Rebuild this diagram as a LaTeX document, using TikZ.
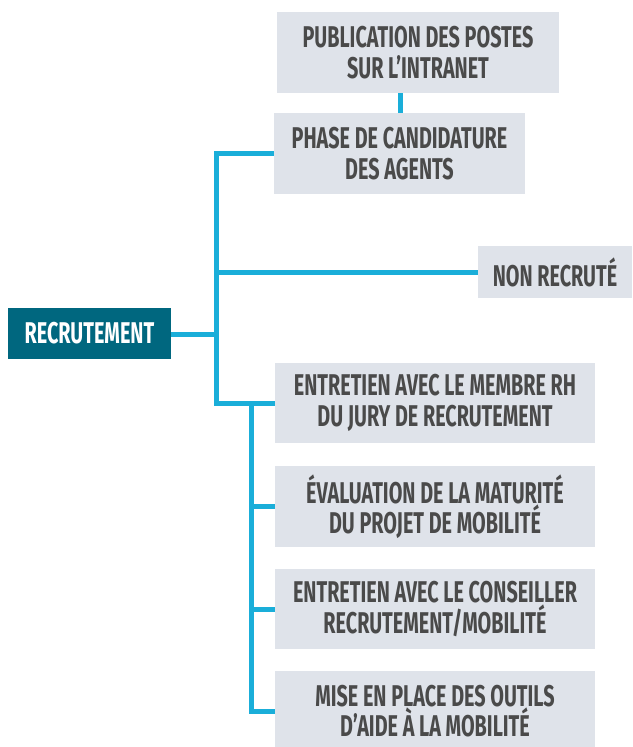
\documentclass[tikz,border=0pt]{standalone}
\usepackage{fontspec}
\newfontfamily\condfont{Fira Sans}[FakeStretch=0.66]
\definecolor{boxgray}{HTML}{DFE3EA}
\definecolor{txtgray}{HTML}{4A4A4A}
\definecolor{linkblue}{HTML}{1AAED9}
\definecolor{tealbox}{HTML}{00677F}
\begin{document}
\begin{tikzpicture}[x=1pt,y=-1pt,
  stepbox/.style={rectangle, fill=boxgray, text=txtgray, inner sep=0pt, align=center,
    font=\condfont\bfseries\fontsize{30}{30.5}\selectfont},
  mainbox/.style={rectangle, fill=tealbox, text=white, inner sep=0pt, align=center,
    font=\condfont\bfseries\fontsize{30}{30.5}\selectfont},
  link/.style={draw=linkblue, line width=5pt, line join=miter}]
\useasboundingbox (0,0) rectangle (632,747);
\node[stepbox, minimum width=282pt, minimum height=81pt] (pub) at (418,52.5) {PUBLICATION DES POSTES\\SUR L’INTRANET};
\node[stepbox, minimum width=251pt, minimum height=81pt] (phase) at (399.5,153.5) {PHASE DE CANDIDATURE\\DES AGENTS};
\node[stepbox, minimum width=154pt, minimum height=52pt] (non) at (555,272) {NON RECRUTÉ};
\node[mainbox, minimum width=163pt, minimum height=51pt] (rec) at (89.5,333.5) {RECRUTEMENT};
\node[stepbox, minimum width=320pt, minimum height=80pt] (e1) at (435,403) {ENTRETIEN AVEC LE MEMBRE RH\\DU JURY DE RECRUTEMENT};
\node[stepbox, minimum width=320pt, minimum height=81pt] (e2) at (435,506.5) {ÉVALUATION DE LA MATURITÉ\\DU PROJET DE MOBILITÉ};
\node[stepbox, minimum width=320pt, minimum height=80pt] (e3) at (435,609) {ENTRETIEN AVEC LE CONSEILLER\\RECRUTEMENT/MOBILITÉ};
\node[stepbox, minimum width=320pt, minimum height=80pt] (e4) at (435,711) {MISE EN PLACE DES OUTILS\\D’AIDE À LA MOBILITÉ};
\coordinate (pc) at (400,0);
\coordinate (j) at (216,334);
\coordinate (k) at (251.5,403);
\draw[link] (pub.south -| pc) -- (phase.north -| pc);
\draw[link] (rec.east |- j) -- (j);
\draw[link] (phase.west) -| (j) |- (e1.west);
\draw[link] (j |- non.west) -- (non.west);
\draw[link] (k) |- (e4.west);
\draw[link] (k |- e2.west) -- (e2.west);
\draw[link] (k |- e3.west) -- (e3.west);
\end{tikzpicture}
\end{document}
